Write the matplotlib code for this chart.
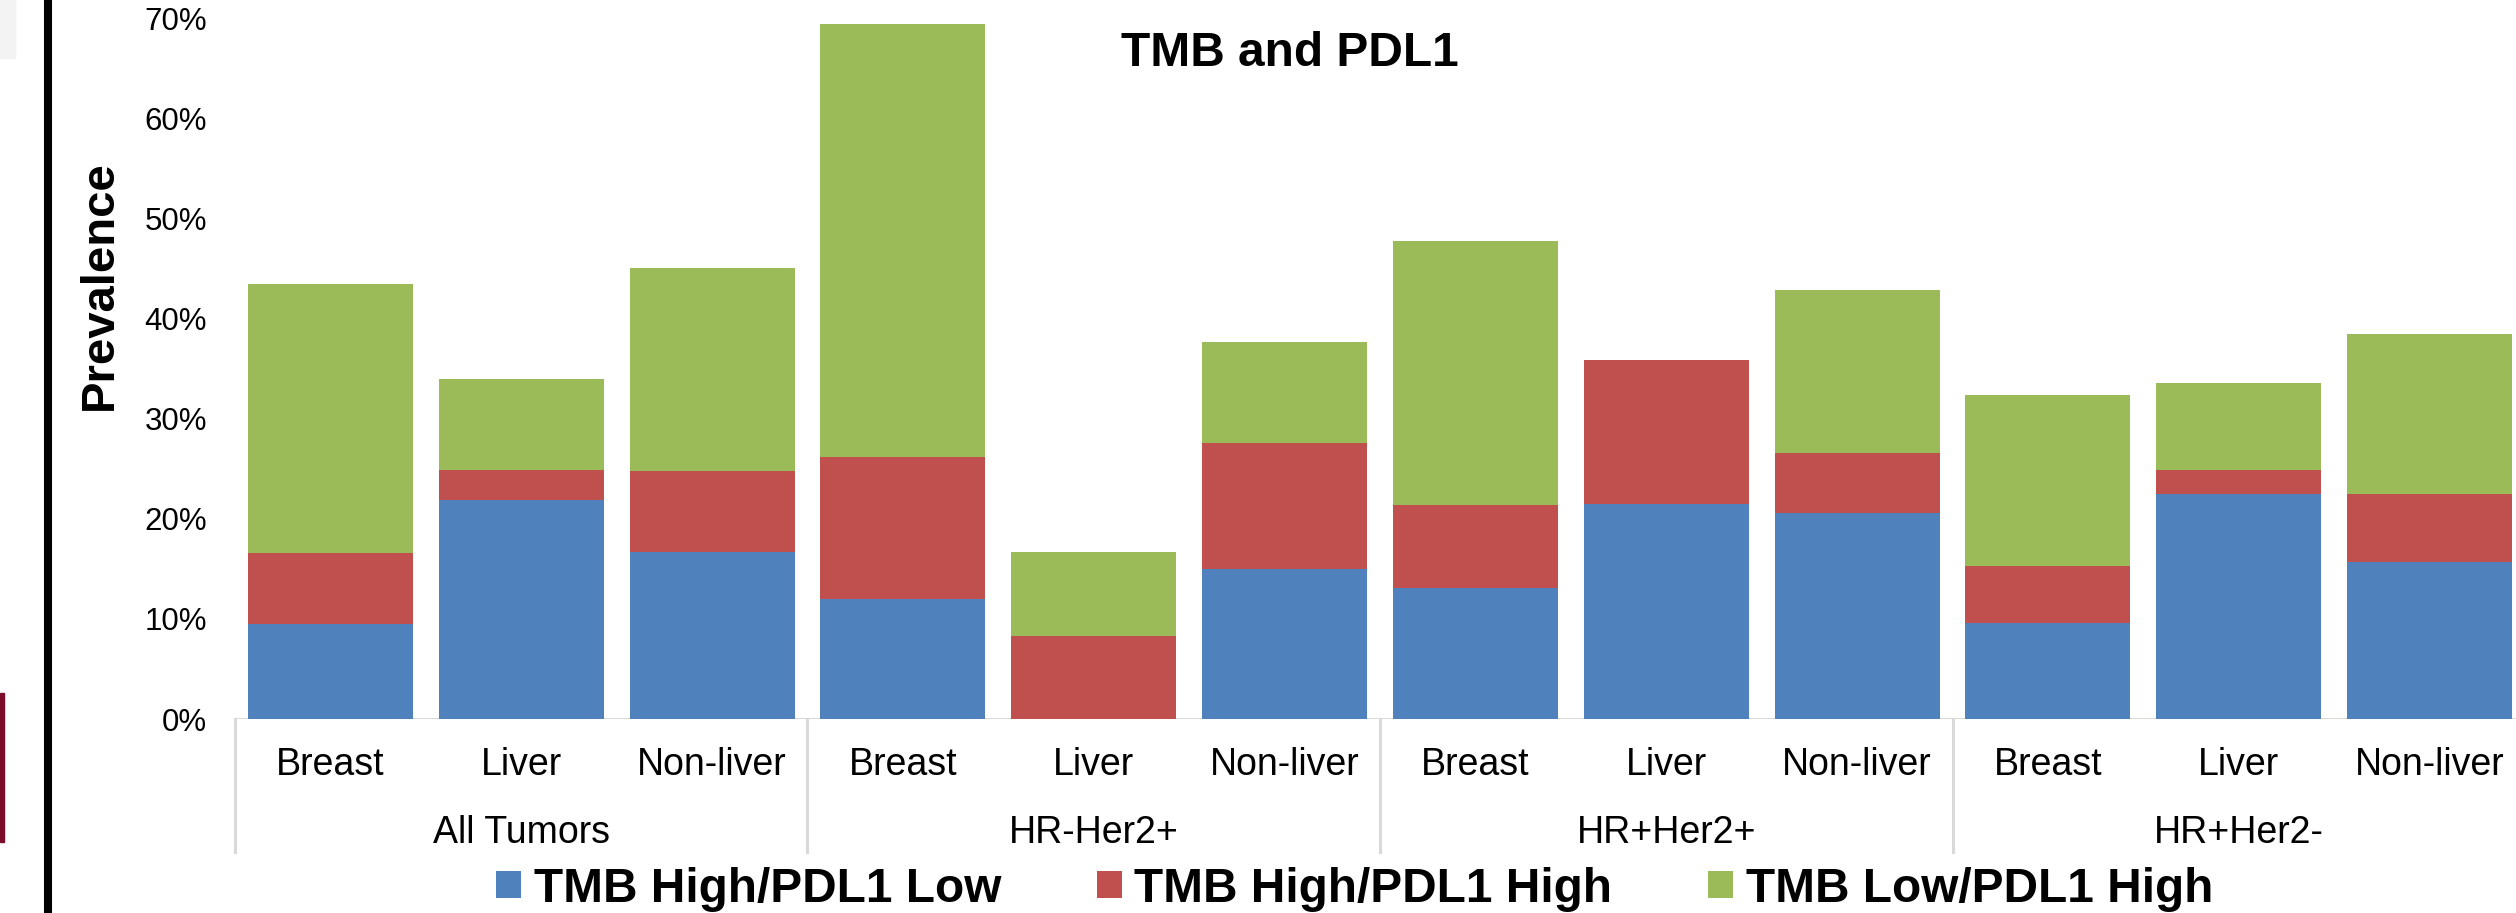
import numpy as np
import matplotlib
matplotlib.use("Agg")
import matplotlib.pyplot as plt
from matplotlib.lines import Line2D
from matplotlib.patches import Rectangle
from matplotlib.ticker import PercentFormatter

plt.rcParams['font.family'] = ['Liberation Sans', 'DejaVu Sans']

# data (percent)
groups = ['All Tumors', 'HR-Her2+', 'HR+Her2+', 'HR+Her2-']
sites = ['Breast', 'Liver', 'Non-liver']
series_names = ['TMB High/PDL1 Low', 'TMB High/PDL1 High', 'TMB Low/PDL1 High']
tmb_high_pdl1_low = [9.5, 21.9, 16.7, 12.0, 0.0, 15.0, 13.1, 21.5, 20.6, 9.6, 22.5, 15.7]
tmb_high_pdl1_high = [7.1, 3.0, 8.1, 14.2, 8.3, 12.6, 8.3, 14.3, 6.0, 5.7, 2.4, 6.8]
tmb_low_pdl1_high = [26.8, 9.1, 20.2, 43.2, 8.4, 10.0, 26.3, 0.0, 16.2, 17.1, 8.7, 15.9]
colors = ['#4F81BD', '#C0504D', '#9BBB59']

W, H = 2516, 913
fig = plt.figure(figsize=(W / 100, H / 100), dpi=100)

# axes box in pixels: left 235, right 2525, top 18, bottom 719
ax = fig.add_axes([235 / W, 1 - 719 / H, (2525 - 235) / W, (719 - 18) / H])

labels = sites * len(groups)
x = np.arange(len(labels))
bottom = np.zeros(len(labels))
handles = []
for vals, col, name in zip([tmb_high_pdl1_low, tmb_high_pdl1_high, tmb_low_pdl1_high], colors, series_names):
    vals = np.array(vals)
    b = ax.bar(x, vals, width=0.865, bottom=bottom, color=col, linewidth=0, label=name)
    handles.append(b)
    bottom += vals

ax.set_xlim(-0.5, len(labels) - 0.5)
ax.set_ylim(0, 70)
ax.set_yticks(np.arange(0, 71, 10))
ax.yaxis.set_major_formatter(PercentFormatter(decimals=0))
ax.tick_params(axis='y', length=0, pad=20, labelsize=22.5)
ax.set_xticks(x)
ax.set_xticklabels(labels)
ax.tick_params(axis='x', length=0, pad=20.5, labelsize=27)
for s in ax.spines.values():
    s.set_visible(False)

# category axis: baseline and group dividers
grid_col = '#D9D9D9'
ax.axhline(0, color=grid_col, lw=2.2, zorder=0.5)
trans = ax.get_xaxis_transform()
div_low = -(852 - 719) / 701
for k in range(len(groups) + 1):
    xd = k * len(sites) - 0.5
    ax.plot([xd, xd], [0, div_low], color=grid_col, lw=2.2, transform=trans, clip_on=False)
for k, g in enumerate(groups):
    xc = k * len(sites) + 1
    ax.text(xc, -(843 - 719) / 701, g, transform=trans, ha='center', va='baseline', fontsize=27)

ax.text((1290 - 235) / 2290, (719 - 53) / 701, 'TMB and PDL1', transform=ax.transAxes,
        ha='center', va='center', fontsize=34.5, fontweight='bold')

fig.text(100 / W, 1 - 285 / H, 'Prevalence', rotation=90, ha='center', va='center',
         fontsize=34, fontweight='bold')

fig.legend(handles=handles, labels=series_names, loc='center left',
           bbox_to_anchor=(496 / W, 1 - 889 / H), ncol=3, frameon=False,
           prop={'weight': 'bold', 'size': 34.4}, handlelength=0.52, handleheight=0.52,
           handletextpad=0.27, columnspacing=2.0, borderpad=0, borderaxespad=0)

# slide decorations on the left
fig.add_artist(Line2D([47.5 / W, 47.5 / W], [0, 1], color='black', lw=5.8, transform=fig.transFigure))
fig.add_artist(Rectangle((0, 1 - 842 / H), 4 / W, 149 / H, color='#7B0C2C', transform=fig.transFigure))
fig.add_artist(Rectangle((0, 1 - 58 / H), 15 / W, 58 / H, color='#F3F3F3', transform=fig.transFigure))

fig.savefig('out.png', dpi=100)
